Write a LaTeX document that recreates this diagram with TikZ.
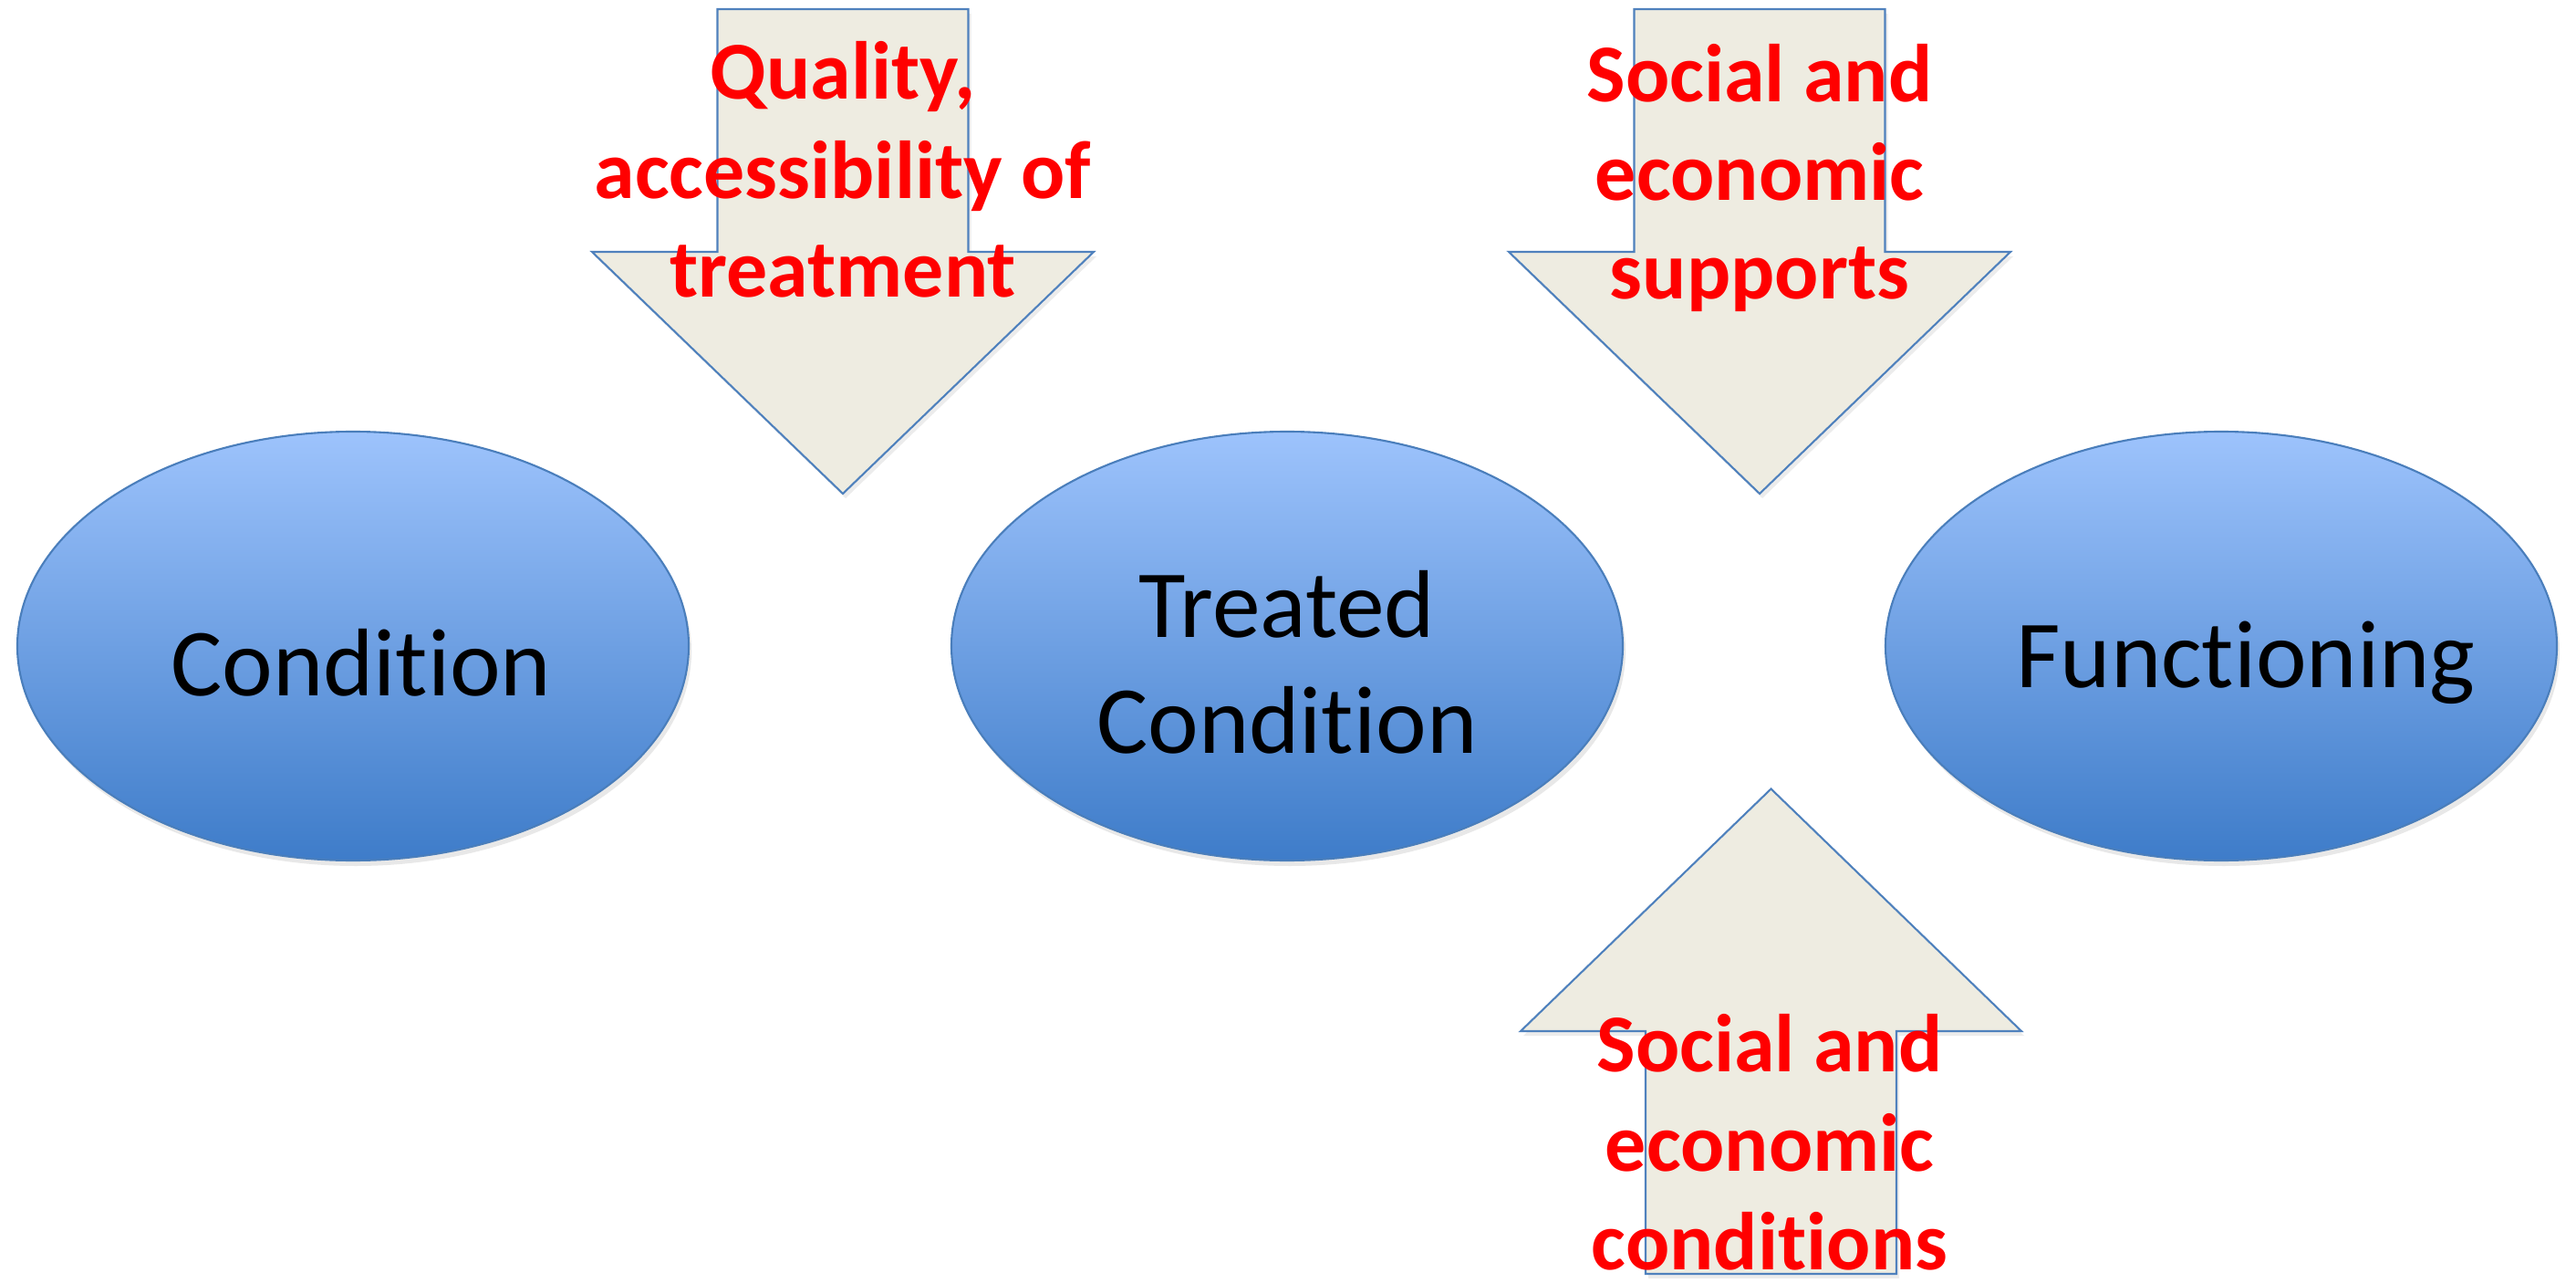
\documentclass[tikz,border=0pt]{standalone}
\usepackage{fontspec}
\setmainfont{Carlito}[Ligatures=NoCommon]
\usetikzlibrary{shapes.geometric,shadows}

\definecolor{ovaltop}{RGB}{157,195,252}
\definecolor{ovalbottom}{RGB}{62,124,201}
\definecolor{ovalline}{RGB}{74,126,187}
\definecolor{arrowfill}{RGB}{238,236,225}
\definecolor{arrowline}{RGB}{79,129,189}

\begin{document}
\begin{tikzpicture}[
  oval/.style={ellipse, draw=ovalline, line width=0.6pt, top color=ovaltop, bottom color=ovalbottom,
    minimum width=7.36cm, minimum height=4.70cm, inner sep=0pt,
    drop shadow={opacity=0.18, shadow xshift=0.03cm, shadow yshift=-0.06cm}},
  ovaltext/.style={font=\fontsize{30}{36}\selectfont, align=center, inner sep=0pt},
  blockarrow/.style={fill=arrowfill, draw=arrowline, line width=0.6pt, line join=miter,
    drop shadow={opacity=0.15, shadow xshift=0.03cm, shadow yshift=-0.05cm}},
  factor/.style={font=\fontsize{25.6}{30.8}\selectfont\bfseries, text=red, align=center, inner sep=0pt}
]
\useasboundingbox (0,0) rectangle (28.24,14.05);

% the three ovals
\node[oval] (cond) at (3.87,6.97) {};
\node[oval] (treated) at (14.11,6.97) {};
\node[oval] (func) at (24.35,6.97) {};

\node[ovaltext] (condtxt) at ([xshift=0.09cm, yshift=-0.18cm]cond.center) {Condition};
\node[ovaltext] (treatedtxt) at ([yshift=-0.18cm]treated.center) {Treated\\Condition};
\node[ovaltext] (functxt) at ([xshift=0.27cm, yshift=-0.18cm]func.center) {Functioning};

% arrow down: treatment
\draw[blockarrow] (7.865,13.95) -- (10.615,13.95) -- (10.615,11.29) -- (11.99,11.29)
  -- (9.24,8.64) -- (6.49,11.29) -- (7.865,11.29) -- cycle;

% arrow down: supports
\draw[blockarrow] (17.915,13.95) -- (20.665,13.95) -- (20.665,11.29) -- (22.04,11.29)
  -- (19.29,8.64) -- (16.54,11.29) -- (17.915,11.29) -- cycle;

% arrow up: conditions
\draw[blockarrow] (18.04,0.09) -- (20.79,0.09) -- (20.79,2.75) -- (22.16,2.75)
  -- (19.415,5.405) -- (16.67,2.75) -- (18.04,2.75) -- cycle;

% red labels on the arrows
\node[factor] (treatlbl) at (9.24,12.19) {Quality,\\accessibility of\\treatment};
\node[factor] (supportlbl) at (19.29,12.10) {Social and\\economic\\supports};
\node[factor] (condlbl) at (19.40,1.53) {Social and\\economic\\conditions};

\end{tikzpicture}
\end{document}
